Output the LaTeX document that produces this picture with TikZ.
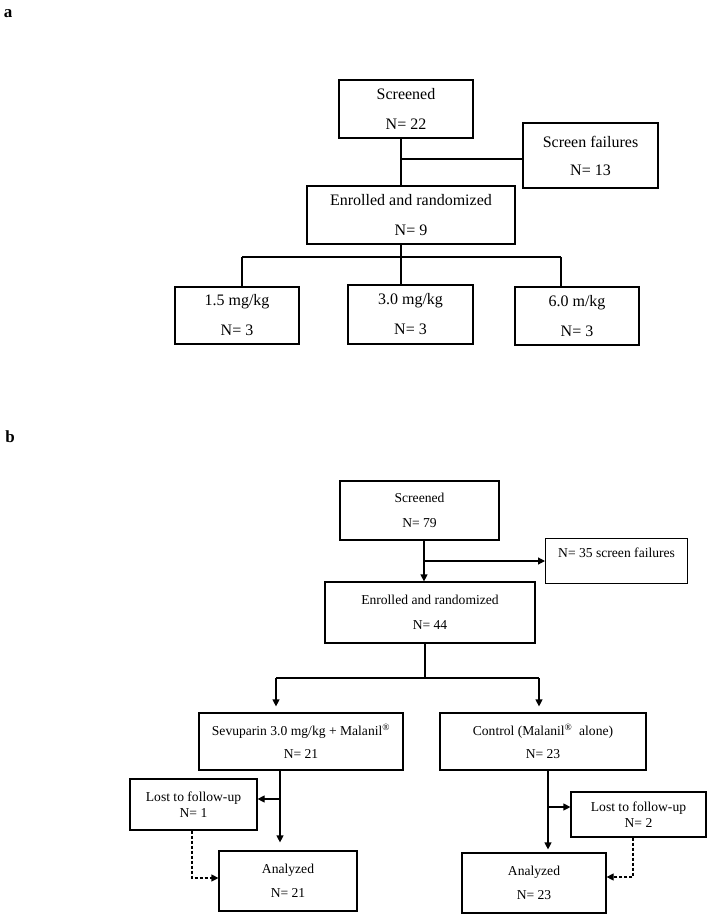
\documentclass[tikz,border=0pt]{standalone}
\usepackage{fontspec}
\setmainfont{Liberation Serif}
\usetikzlibrary{arrows.meta}
\begin{document}
\begin{tikzpicture}[x=1pt,y=-1pt,
 boxa/.style={draw, line width=1.6pt, align=center, inner sep=0pt},
 boxb/.style={draw, line width=1.2pt, align=center, inner sep=0pt},
 fa/.style={font=\fontsize{16}{30}\selectfont},
 fb/.style={font=\fontsize{13.6}{25}\selectfont},
 fc/.style={font=\fontsize{13.6}{16.5}\selectfont},
 linea/.style={line width=1.6pt},
 lineb/.style={line width=1.2pt},
 arr/.style={lineb, -{Triangle[length=7pt,width=7pt]}},
 darr/.style={lineb, dash pattern=on 3pt off 2pt, -{Triangle[length=7pt,width=7pt]}},
 lbl/.style={font=\bfseries\fontsize{17}{20}\selectfont, inner sep=0pt}
]
\useasboundingbox (0,0) rectangle (707,915);

% ---------- panel a ----------
\node[lbl] (pa) at (8,14) {a};
\node[boxa, fa, minimum width=134, minimum height=58] (s1) at (406,109) {Screened\\N= 22};
\node[boxa, fa, minimum width=135, minimum height=65, font=\fontsize{16}{28}\selectfont] (f1) at (590.5,155.5) {Screen failures\\N= 13};
\node[boxa, fa, minimum width=208, minimum height=58] (e1) at (411,215) {Enrolled and randomized\\N= 9};
\node[boxa, fa, minimum width=124, minimum height=57] (d1) at (237,315.5) {1.5 mg/kg\\N= 3};
\node[boxa, fa, minimum width=125, minimum height=59] (d2) at (410.5,314.5) {3.0 mg/kg\\N= 3};
\node[boxa, fa, minimum width=124, minimum height=58] (d3) at (577,316) {6.0 m/kg\\N= 3};

\coordinate (ja) at (401,159);
\draw[linea] (ja |- s1.south) -- (ja |- e1.north);
\draw[linea] (ja) -- (f1.west |- ja);
\coordinate (ba) at (401,257);
\coordinate (bl) at (242,257);
\coordinate (br) at (561,257);
\draw[linea] (ba |- e1.south) -- (ba);
\draw[linea] (bl) -- (br);
\draw[linea] (bl) -- (bl |- d1.north);
\draw[linea] (ba) -- (ba |- d2.north);
\draw[linea] (br) -- (br |- d3.north);

% ---------- panel b ----------
\node[lbl] (pb) at (10,437) {b};
\node[boxb, fb, minimum width=159, minimum height=59] (s2) at (419.5,510.5) {Screened\\N= 79};
\node[boxb, fb, minimum width=142, text height=18.5pt, text depth=26.5pt, anchor=north west] (f2) at (545,538) {N= 35 screen failures};
\node[boxb, fb, minimum width=210, minimum height=61] (e2) at (430,612.5) {Enrolled and randomized\\N= 44};
\node[boxb, fb, minimum width=204, minimum height=57, font=\fontsize{13.6}{23}\selectfont] (sv) at (301,741.5) {Sevuparin 3.0 mg/kg + Malanil\textsuperscript{®}\\N= 21};
\node[boxb, fb, minimum width=206, minimum height=57, font=\fontsize{13.6}{23}\selectfont] (ct) at (543,741.5) {Control (Malanil\textsuperscript{®}\ \ alone)\\N= 23};
\node[boxb, fc, minimum width=127, minimum height=51] (l1) at (193.5,804.5) {Lost to follow-up\\N= 1};
\node[boxb, fc, minimum width=135, minimum height=45] (l2) at (638.5,814.5) {Lost to follow-up\\N= 2};
\node[boxb, fb, minimum width=138, minimum height=60, font=\fontsize{13.6}{24}\selectfont] (a1) at (288,881) {Analyzed\\N= 21};
\node[boxb, fb, minimum width=144, minimum height=60, font=\fontsize{13.6}{24}\selectfont] (a2) at (534,883) {Analyzed\\N= 23};

\coordinate (jb) at (424,561);
\draw[arr] (jb |- s2.south) -- (jb |- e2.north);
\draw[arr] (jb) -- (f2.west |- jb);

\coordinate (bm) at (425,678);
\coordinate (bL) at (276,678);
\coordinate (bR) at (539,678);
\draw[lineb] (bm |- e2.south) -- (bm);
\draw[lineb] (bL) -- (bR);
\draw[arr, shorten >=6pt] (bL) -- (bL |- sv.north);
\draw[arr, shorten >=6pt] (bR) -- (bR |- ct.north);

\coordinate (kL) at (280,799);
\draw[arr, shorten >=8pt] (kL |- sv.south) -- (kL |- a1.north);
\draw[arr] (kL) -- (l1.east |- kL);
\coordinate (dL) at (192,878);
\draw[darr] (dL |- l1.south) -- (dL) -- (a1.west |- dL);

\coordinate (kR) at (548,807);
\draw[arr, shorten >=3pt] (kR |- ct.south) -- (kR |- a2.north);
\draw[arr] (kR) -- (l2.west |- kR);
\coordinate (dR) at (633,877);
\draw[darr] (dR |- l2.south) -- (dR) -- (a2.east |- dR);
\end{tikzpicture}
\end{document}
